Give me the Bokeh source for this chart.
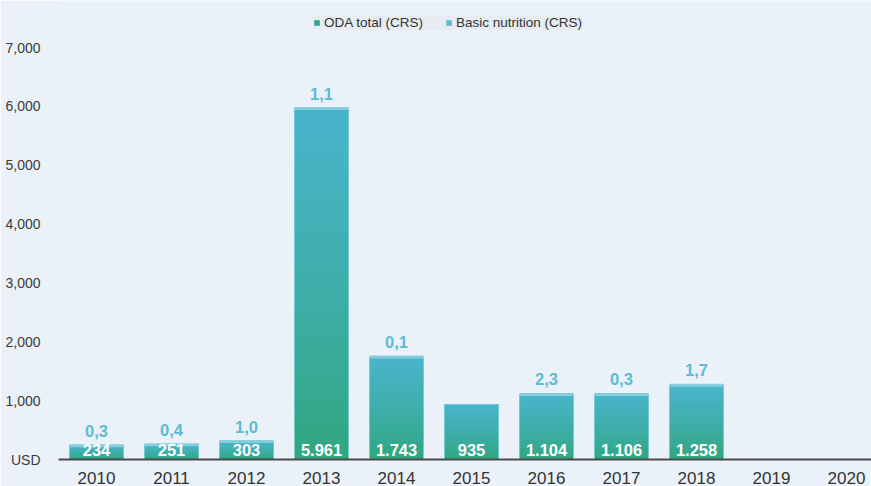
from bokeh.plotting import figure
from bokeh.models import FixedTicker, Range1d, Legend, LegendItem, NumeralTickFormatter
from bokeh.embed import file_html
from bokeh.resources import INLINE
from bokeh.core.properties import value

# ---- data ----
years = [2010, 2011, 2012, 2013, 2014, 2015, 2016, 2017, 2018, 2019, 2020]
oda_total = [234, 251, 303, 5961, 1743, 935, 1104, 1106, 1258, None, None]
basic_nutrition = [0.3, 0.4, 1.0, 1.1, 0.1, None, 2.3, 0.3, 1.7, None, None]
y_ticks = [0, 1000, 2000, 3000, 4000, 5000, 6000, 7000]

FONT = "Liberation Sans"
BG = "#EAF1F8"
BOTTOM_C = (0x2F, 0xA6, 0x7B)
TOP_C = (0x48, 0xB4, 0xC9)

def lerp(c1, c2, t):
    return "#%02x%02x%02x" % tuple(int(round(a + (b - a) * t)) for a, b in zip(c1, c2))

def fmt_int(v):
    return f"{v:,}".replace(",", ".")

def fmt_dec(v):
    return f"{v:.1f}".replace(".", ",")

# figure geometry
W, H = 871, 486
frame_h = 459
y_end = 7000 * frame_h / 412

p = figure(width=W, height=H, output_backend="svg", toolbar_location=None,
           x_range=Range1d(2009.493, 2020.333), y_range=Range1d(0, y_end),
           min_border_left=58, min_border_right=0, min_border_top=0,
           min_border_bottom=H - frame_h)
p.background_fill_color = BG
p.border_fill_color = BG
p.outline_line_color = None
p.grid.grid_line_color = None

# gradient bars: overlapping slices (each from its level up to the bar top)
N = 40
xs, bots, tops, cols = [], [], [], []
bx, bt = [], []
for yr, v in zip(years, oda_total):
    if v is None:
        continue
    for i in range(N):
        xs.append(yr)
        bots.append(v * i / N)
        tops.append(v)
        t = (i + 0.5) / N
        cols.append(lerp(BOTTOM_C, TOP_C, min(1.0, t ** 0.8 * 1.05)))
    bx.append(yr)
    bt.append(v)

p.vbar(x=xs, bottom=bots, top=tops, width=0.72, fill_color=cols, line_color=None)
# outline of bars
p.vbar(x=bx, top=bt, width=0.72, fill_color=None, line_color="#86CEDD", line_width=1, line_alpha=0.8)

# basic nutrition strip
sx, sy, slab = [], [], []
for yr, v, b in zip(years, oda_total, basic_nutrition):
    if v is None or b is None:
        continue
    sx.append(yr)
    sy.append(v + b)
    slab.append(fmt_dec(b))
p.rect(x=sx, y=sy, width=0.72, height=3, height_units="screen",
       fill_color="#86CEDD", line_color=None)

# labels
lx, ly, ltxt = [], [], []
for yr, v in zip(years, oda_total):
    if v is None:
        continue
    lx.append(yr); ly.append(0); ltxt.append(fmt_int(v))
p.text(x=lx, y=ly, text=ltxt, text_align="center", text_baseline="bottom",
       y_offset=-4, text_color="white", text_font=value(FONT),
       text_font_style="bold", text_font_size="16.5px")
p.text(x=sx, y=sy, text=slab, text_align="center", text_baseline="bottom",
       y_offset=-9, text_color="#5CBCD6", text_font=value(FONT),
       text_font_style="bold", text_font_size="16.5px")

# axes
p.xaxis.ticker = FixedTicker(ticks=years)
p.xaxis.axis_line_color = "#4a4a4a"
p.xaxis.axis_line_width = 2
p.xaxis.major_tick_line_color = None
p.xaxis.minor_tick_line_color = None
p.xaxis.major_label_text_font = FONT
p.xaxis.major_label_text_font_size = "17px"
p.xaxis.major_label_text_color = "#333333"
p.xaxis.major_label_standoff = 6

p.yaxis.ticker = FixedTicker(ticks=y_ticks)
p.yaxis.formatter = NumeralTickFormatter(format="0,0")
p.yaxis.major_label_overrides = {0: "USD"}
p.yaxis.axis_line_color = None
p.yaxis.major_tick_line_color = None
p.yaxis.minor_tick_line_color = None
p.yaxis.major_label_text_font = FONT
p.yaxis.major_label_text_font_size = "14px"
p.yaxis.major_label_text_color = "#3a3a3a"
p.yaxis.major_label_standoff = 12

# legend swatches (zero-height bars, only their legend glyphs show)
r1 = p.vbar(x=[years[0]], top=[0], width=0.5, fill_color="#2BA697", line_color=None)
r2 = p.vbar(x=[years[0]], top=[0], width=0.5, fill_color="#5BBCD2", line_color=None)
legend = Legend(items=[LegendItem(label="ODA total (CRS)", renderers=[r1]),
                       LegendItem(label="Basic nutrition (CRS)", renderers=[r2])],
                orientation="horizontal", location=(255, frame_h - 30),
                glyph_width=7, glyph_height=7, label_standoff=4, spacing=22,
                padding=6, margin=0, label_height=12,
                label_text_font=FONT, label_text_font_size="13.5px",
                label_text_color="#333333",
                background_fill_color="#E6ECF0", background_fill_alpha=1,
                border_line_color=None)
p.add_layout(legend, "center")

open("out.html", "w").write(file_html(p, INLINE))
